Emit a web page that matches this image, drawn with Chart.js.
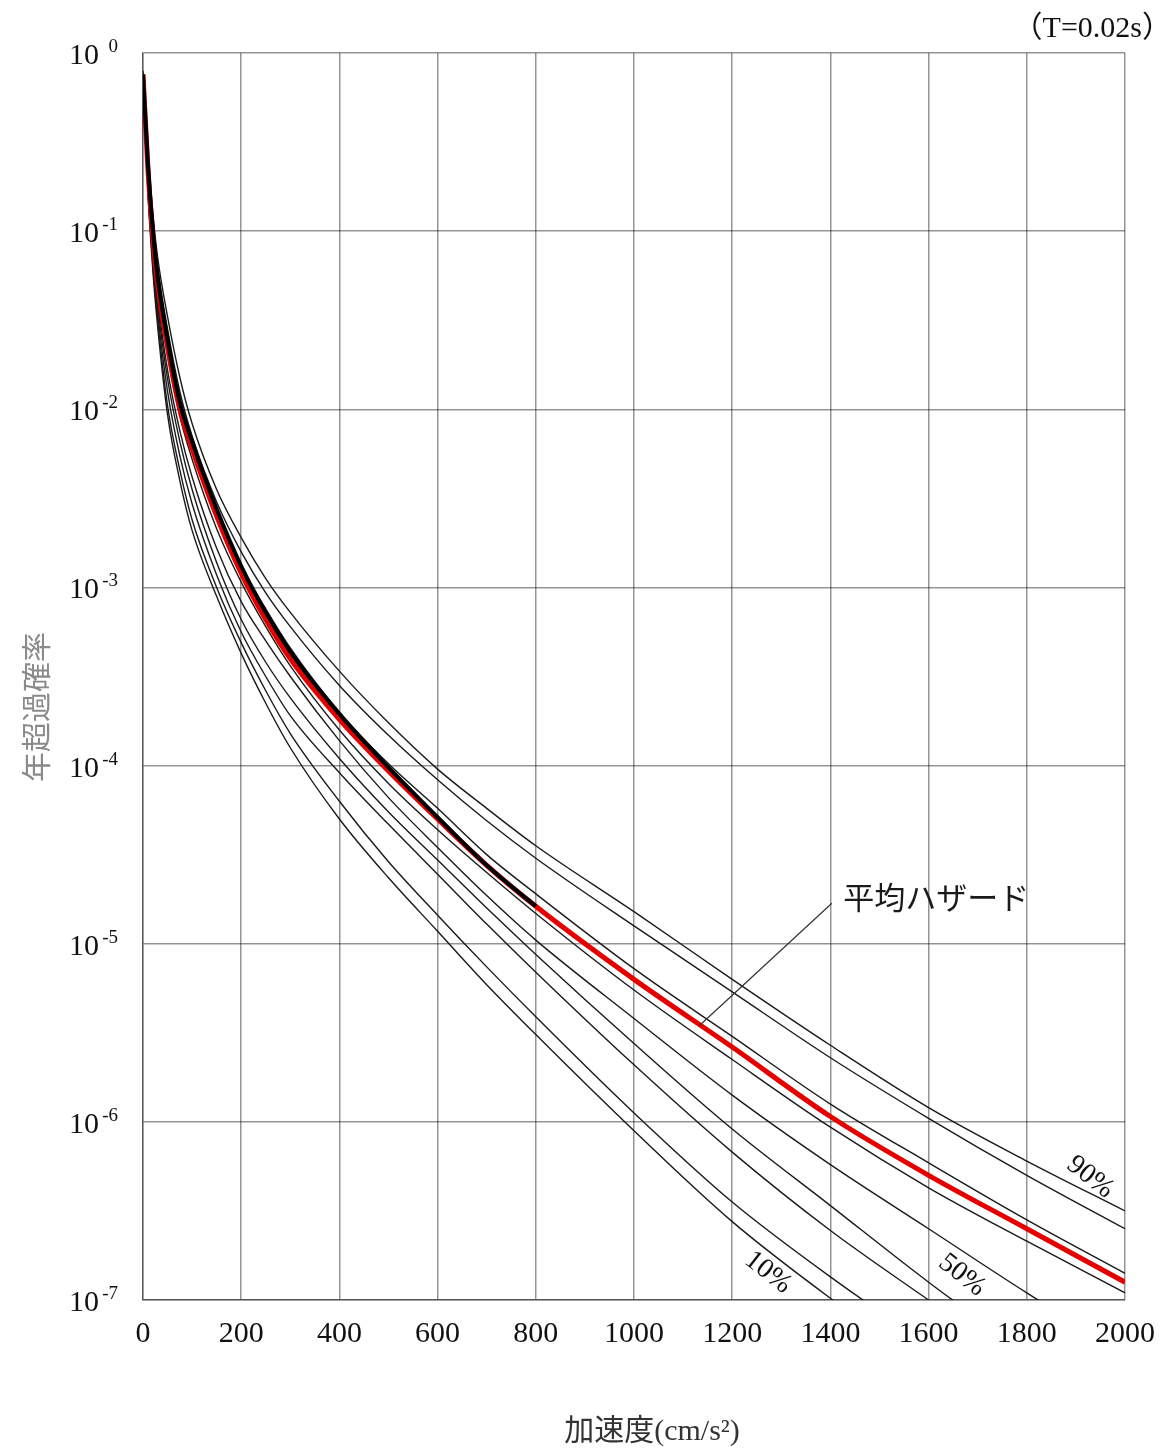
<!DOCTYPE html>
<html>
<head>
<meta charset="utf-8">
<script src="https://cdn.jsdelivr.net/npm/chart.js@4.4.1/dist/chart.umd.min.js"></script>
<style>
    html, body { margin: 0; padding: 0; background: #fff; }
    canvas { display: block; }
</style>
</head>
<body>
<canvas id="hazard" width="1176" height="1454"></canvas>
<script>
// ─── data ───────────────────────────────────────────────────────────
// acceleration (cm/s2) of the sampled points
const accel = [0, 10, 20, 30, 50, 75, 100, 150, 200, 250, 300, 400, 500, 600, 700, 800, 1000, 1200, 1400, 1600, 1800, 2000];

// log10 of annual exceedance probability, one array per curve
const frac10 = [-0.13, -0.78, -1.22, -1.54, -2.03, -2.40, -2.68, -3.05, -3.37, -3.65, -3.90, -4.30, -4.63, -4.93, -5.23, -5.51, -6.05, -6.56, -6.99, -7.38, -7.75, -8.10];
const frac20 = [-0.13, -0.76, -1.19, -1.50, -1.98, -2.34, -2.62, -3.00, -3.31, -3.58, -3.82, -4.20, -4.54, -4.84, -5.13, -5.41, -5.95, -6.45, -6.87, -7.25, -7.60, -7.95];
const frac30 = [-0.12, -0.74, -1.16, -1.46, -1.90, -2.26, -2.53, -2.93, -3.25, -3.50, -3.72, -4.04, -4.33, -4.61, -4.89, -5.16, -5.68, -6.17, -6.61, -7.00, -7.38, -7.75];
const frac40 = [-0.12, -0.72, -1.13, -1.42, -1.83, -2.18, -2.45, -2.86, -3.18, -3.42, -3.62, -3.96, -4.26, -4.53, -4.80, -5.06, -5.56, -6.04, -6.47, -6.90, -7.30, -7.68];
const frac50 = [-0.12, -0.70, -1.10, -1.38, -1.78, -2.12, -2.38, -2.78, -3.08, -3.30, -3.50, -3.86, -4.18, -4.46, -4.73, -4.98, -5.42, -5.85, -6.24, -6.60, -6.96, -7.30];
const frac60 = [-0.12, -0.67, -1.05, -1.32, -1.70, -2.04, -2.28, -2.67, -2.97, -3.22, -3.44, -3.80, -4.10, -4.36, -4.60, -4.83, -5.26, -5.65, -6.03, -6.37, -6.67, -6.96];
const frac70 = [-0.12, -0.62, -0.98, -1.25, -1.60, -1.96, -2.20, -2.58, -2.88, -3.12, -3.34, -3.70, -3.99, -4.24, -4.50, -4.72, -5.14, -5.52, -5.90, -6.23, -6.55, -6.85];
const frac80 = [-0.11, -0.58, -0.93, -1.20, -1.55, -1.90, -2.15, -2.52, -2.80, -3.03, -3.22, -3.55, -3.83, -4.08, -4.31, -4.52, -4.90, -5.27, -5.64, -5.98, -6.30, -6.60];
const frac90 = [-0.10, -0.55, -0.90, -1.15, -1.48, -1.82, -2.08, -2.45, -2.72, -2.95, -3.14, -3.47, -3.76, -4.02, -4.24, -4.45, -4.82, -5.20, -5.57, -5.92, -6.22, -6.50];
// mean hazard (red)
const meanHazard = [-0.12, -0.65, -1.03, -1.30, -1.65, -2.00, -2.22, -2.60, -2.92, -3.18, -3.40, -3.74, -4.03, -4.30, -4.56, -4.79, -5.20, -5.58, -5.97, -6.30, -6.60, -6.90];
// heavy black curve lying on the red one, merging into it near 800
const heavyBlack = [-0.12, -0.62, -0.99, -1.26, -1.61, -1.96, -2.18, -2.56, -2.88, -3.14, -3.36, -3.71, -4.01, -4.29, -4.56, -4.79, null, null, null, null, null, null];

// axis ticks
const xTicks = [0, 200, 400, 600, 800, 1000, 1200, 1400, 1600, 1800, 2000];
const yTicks = [1, 1e-1, 1e-2, 1e-3, 1e-4, 1e-5, 1e-6, 1e-7];
const yExponents = ['0', '-1', '-2', '-3', '-4', '-5', '-6', '-7'];

const fractiles = [frac10, frac20, frac30, frac40, frac50, frac60, frac70, frac80, frac90];

// ─── styling ────────────────────────────────────────────────────────
const GRID = 'rgba(0, 0, 0, 0.42)';
const SERIF = '"Liberation Serif", "DejaVu Serif", serif';
const CJK = '"Noto Sans CJK JP", "Noto Sans CJK SC", sans-serif';

const toPoints = logs => accel.map((a, i) => ({
    x: a,
    y: logs[i] === null ? null : Math.pow(10, logs[i]),
}));

const datasets = [
    {
        label: 'heavy',
        data: toPoints(heavyBlack),
        borderColor: '#000',
        borderWidth: 4,
        order: 0,
    },
    {
        label: '平均ハザード',
        data: toPoints(meanHazard),
        borderColor: '#e50000',
        borderWidth: 5,
        order: 1,
    },
    ...fractiles.map((f, i) => ({
        label: `${(i + 1) * 10}%`,
        data: toPoints(f),
        borderColor: '#1a1a1a',
        borderWidth: 1.4,
        order: 2,
    })),
];

const decorations = {
    id: 'decorations',
    beforeDraw(chart) {
        const ctx = chart.ctx;
        ctx.save();
        ctx.fillStyle = '#fff';
        ctx.fillRect(0, 0, chart.width, chart.height);
        ctx.restore();
    },
    afterDraw(chart) {
        const { ctx, scales: { x, y } } = chart;
        ctx.save();

        // y tick labels: 10 with a raised exponent
        ctx.fillStyle = '#111';
        ctx.textAlign = 'right';
        ctx.textBaseline = 'alphabetic';
        yTicks.forEach((v, i) => {
            const py = y.getPixelForValue(v);
            ctx.font = `30px ${SERIF}`;
            ctx.fillText('10', 99, py + 11);
            ctx.font = `19px ${SERIF}`;
            ctx.fillText(yExponents[i], 118, py - 1);
        });

        // axis titles
        ctx.textAlign = 'center';
        ctx.textBaseline = 'middle';
        ctx.font = `30px "Liberation Serif", ${CJK}`;
        ctx.fillStyle = '#333';
        ctx.fillText('加速度(cm/s²)', 652, 1432);

        ctx.save();
        ctx.translate(36, 707);
        ctx.rotate(-Math.PI / 2);
        ctx.fillStyle = '#8a8a8a';
        ctx.font = `30px ${CJK}`;
        ctx.fillText('年超過確率', 0, 0);
        ctx.restore();

        // period note
        ctx.textAlign = 'right';
        ctx.fillStyle = '#111';
        ctx.font = `30px "Liberation Serif", ${CJK}`;
        ctx.fillText('（T=0.02s）', 1172, 29);

        // fractile labels, slanted along the curves
        const pctLabels = [
            { text: '10%', ax: 1273, p: Math.pow(10, -6.845) },
            { text: '50%', ax: 1668, p: Math.pow(10, -6.861) },
            { text: '90%', ax: 1929, p: Math.pow(10, -6.311) },
        ];
        ctx.font = `28px ${SERIF}`;
        ctx.textAlign = 'center';
        pctLabels.forEach(l => {
            ctx.save();
            ctx.translate(x.getPixelForValue(l.ax), y.getPixelForValue(l.p));
            ctx.rotate(38 * Math.PI / 180);
            ctx.fillText(l.text, 0, 0);
            ctx.restore();
        });

        // mean hazard callout
        ctx.strokeStyle = '#333';
        ctx.lineWidth = 1.2;
        ctx.beginPath();
        ctx.moveTo(x.getPixelForValue(1403), y.getPixelForValue(Math.pow(10, -4.773)));
        ctx.lineTo(x.getPixelForValue(1134), y.getPixelForValue(Math.pow(10, -5.458)));
        ctx.stroke();
        ctx.textAlign = 'left';
        ctx.fillStyle = '#1a1a1a';
        ctx.font = `31px ${CJK}`;
        ctx.fillText('平均ハザード', x.getPixelForValue(1426), y.getPixelForValue(Math.pow(10, -4.74)));

        ctx.restore();
    },
};

new Chart(document.getElementById('hazard'), {
    type: 'line',
    data: { datasets },
    options: {
        responsive: false,
        animation: false,
        devicePixelRatio: 1,
        layout: { padding: { left: 0, right: 51, top: 53, bottom: 0 } },
        elements: {
            point: { radius: 0, hoverRadius: 0 },
            line: { cubicInterpolationMode: 'monotone', fill: false },
        },
        plugins: {
            legend: { display: false },
            tooltip: { enabled: false },
        },
        scales: {
            x: {
                type: 'linear',
                min: 0,
                max: 2000,
                afterBuildTicks(s) { s.ticks = xTicks.map(v => ({ value: v })); },
                afterFit(s) { s.height = 154; },
                ticks: {
                    font: { family: SERIF, size: 30 },
                    color: '#111',
                    padding: 16,
                    maxRotation: 0,
                    autoSkip: false,
                    callback: v => String(v),
                },
                grid: { color: GRID, lineWidth: 1.5, drawTicks: false },
                border: { color: GRID, width: 1.5 },
            },
            y: {
                type: 'logarithmic',
                min: 1e-7,
                max: 1,
                afterBuildTicks(s) { s.ticks = yTicks.map(v => ({ value: v })); },
                afterFit(s) { s.width = 143; },
                ticks: { display: false },
                grid: { color: GRID, lineWidth: 1.5, drawTicks: false },
                border: { color: GRID, width: 1.5 },
            },
        },
    },
    plugins: [decorations],
});
</script>
</body>
</html>
